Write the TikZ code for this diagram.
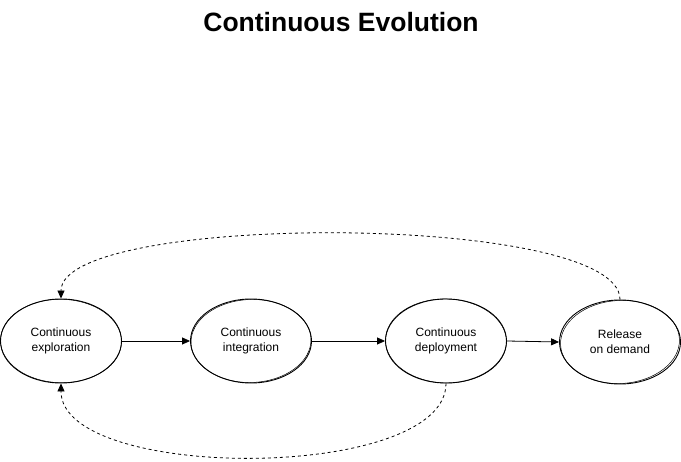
\documentclass[tikz,border=0pt]{standalone}
\usepackage{fontspec}
\setmainfont{Liberation Sans}
\usetikzlibrary{arrows.meta,shapes.geometric}
\begin{document}
\begin{tikzpicture}[x=1pt,y=-1pt,
  stage/.style={ellipse,draw,line width=0.9pt,minimum width=121pt,minimum height=84pt,inner sep=0pt,align=center,font=\fontsize{12}{15}\selectfont},
  sketch/.style={line width=0.5pt},
  flow/.style={line width=0.8pt,-{Triangle[length=8pt,width=7pt]}},
  loop/.style={line width=0.8pt,dash pattern=on 3pt off 3pt,-{Triangle[length=8pt,width=7pt]}}]
\useasboundingbox (0,0) rectangle (681,462);
\node[font=\bfseries\fontsize{26.5}{30}\selectfont] (title) at (341,22) {Continuous Evolution};
\node[stage] (ce) at (61,341) {Continuous\\exploration};
\node[stage] (ci) at (251,341) {Continuous\\integration};
\node[stage] (cd) at (446,341) {Continuous\\deployment};
\node[stage] (rd) at (620,342) {Release\\on demand};
\draw[sketch,rotate around={2:(ci.center)}] (ci.center) ellipse (60 and 41.5);
\draw[sketch,rotate around={-1.5:(cd.center)}] (cd.center) ellipse (60.5 and 42);
\draw[sketch,rotate around={3:(rd.center)}] (rd.center) ellipse (59.5 and 41.5);
\draw[sketch,rotate around={-1:(ce.center)}] (ce.center) ellipse (60.5 and 41.7);
\draw[flow] (ce.east) -- (ci.west);
\draw[flow] (ci.east) -- (cd.west);
\draw[flow] (cd.east) -- (rd.west);
\draw[loop] (rd.north) .. controls (620,212) and (61,212) .. (ce.north);
\draw[loop] (cd.south) .. controls (446,482) and (61,482) .. (ce.south);
\end{tikzpicture}
\end{document}
